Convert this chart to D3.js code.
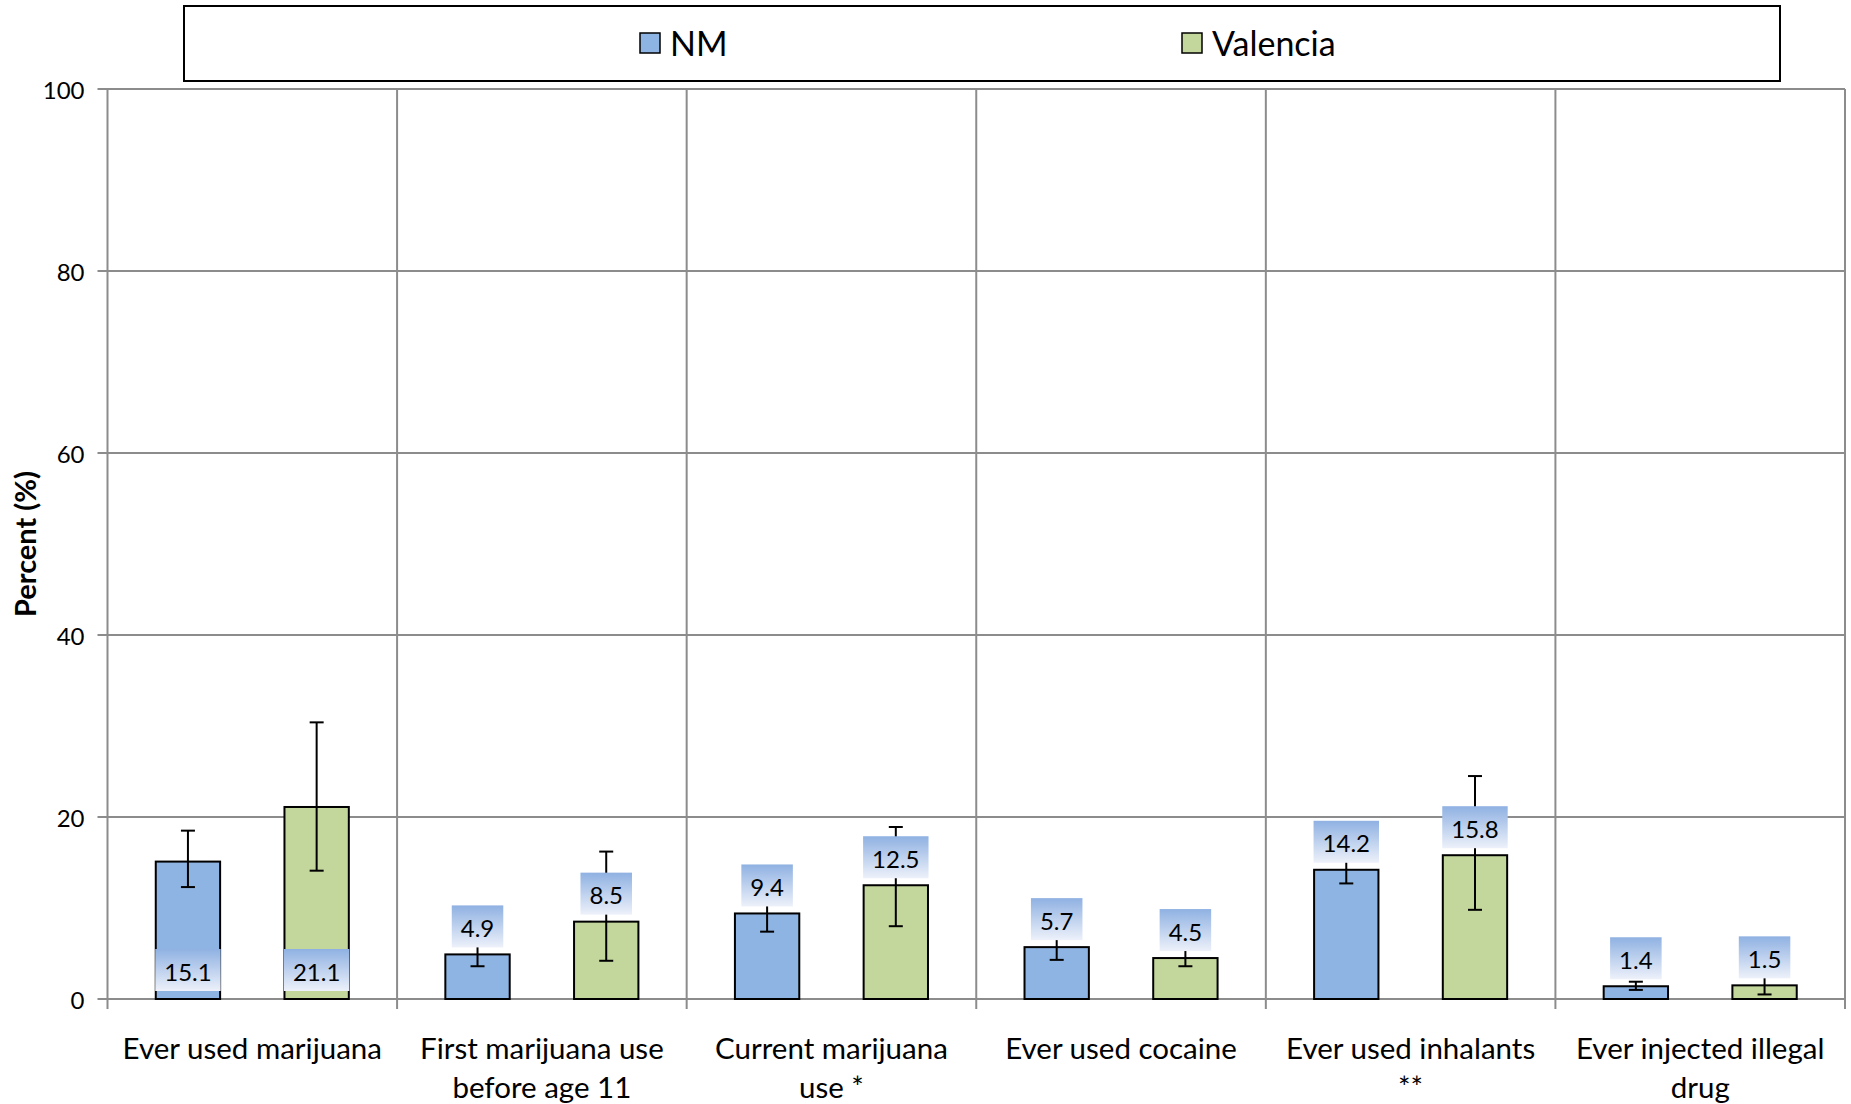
<!DOCTYPE html>
<html>
<head>
<meta charset="utf-8">
<script src="https://d3js.org/d3.v7.min.js"></script>
<style>
  body { margin: 0; background: #fff; font-family: Lato, 'Open Sans', sans-serif; }
  svg text { fill: #000; }
</style>
</head>
<body>
<svg id="chart" width="1851" height="1104"></svg>
<script>
// categories (x axis), one entry per group; labels split on two lines as in the chart
const categories = ["Ever used marijuana", "First marijuana use before age 11", "Current marijuana use *",
                    "Ever used cocaine", "Ever used inhalants **", "Ever injected illegal drug"];
const categoryLines = [["Ever used marijuana"], ["First marijuana use", "before age 11"], ["Current marijuana", "use *"],
                       ["Ever used cocaine"], ["Ever used inhalants", "**"], ["Ever injected illegal", "drug"]];
const seriesNames = ["NM", "Valencia"];

// percent values
const nmValues       = [15.1, 4.9, 9.4, 5.7, 14.2, 1.4];
const valenciaValues = [21.1, 8.5, 12.5, 4.5, 15.8, 1.5];

// confidence intervals (lower / upper)
const nmLow        = [12.3, 3.6, 7.4, 4.3, 12.7, 1.0];
const nmHigh       = [18.5, 6.2, 11.4, 7.1, 15.7, 1.9];
const valenciaLow  = [14.1, 4.2, 8.0, 3.6, 9.8, 0.5];
const valenciaHigh = [30.4, 16.2, 18.9, 5.5, 24.5, 2.5];

// Excel put the first group's labels at the bar base
const labelAtBase = ["Ever used marijuana"];

const yTicks = [0, 20, 40, 60, 80, 100];

const colors = { "NM": "#8EB4E3", "Valencia": "#C3D69B" };

// build rows
const rows = [];
categories.forEach((c, i) => {
  rows.push({ cat: c, series: "NM", value: nmValues[i], lo: nmLow[i], hi: nmHigh[i] });
  rows.push({ cat: c, series: "Valencia", value: valenciaValues[i], lo: valenciaLow[i], hi: valenciaHigh[i] });
});

const svg = d3.select("#chart");
const margin = { left: 107.5, right: 6, top: 89, bottom: 105 };
const W = +svg.attr("width"), H = +svg.attr("height");

const x0 = d3.scaleBand().domain(categories).range([margin.left, W - margin.right]).padding(0);
const x1 = d3.scaleBand().domain(seriesNames).range([0, x0.bandwidth()]).paddingInner(0.5).paddingOuter(0.375);
const y = d3.scaleLinear().domain([0, 100]).range([H - margin.bottom, margin.top]);

const gridColor = "#8c8c8c";

// horizontal gridlines (with small outward tick on the left)
svg.append("g").selectAll("line").data(yTicks).join("line")
  .attr("x1", margin.left - 10).attr("x2", W - margin.right)
  .attr("y1", d => y(d)).attr("y2", d => y(d))
  .attr("stroke", gridColor).attr("stroke-width", 2);

// vertical category separators (extending below the zero line as ticks)
const seps = categories.map(c => x0(c)).concat([x0.range()[1]]);
svg.append("g").selectAll("line").data(seps).join("line")
  .attr("x1", d => d).attr("x2", d => d)
  .attr("y1", y(100)).attr("y2", y(0) + 10)
  .attr("stroke", gridColor).attr("stroke-width", 2);

// y tick labels
svg.append("g").selectAll("text").data(yTicks).join("text")
  .attr("x", margin.left - 23).attr("y", d => y(d))
  .attr("text-anchor", "end").attr("dominant-baseline", "central")
  .style("font-size", "24px")
  .text(d => d);

// y axis title
svg.append("text")
  .attr("transform", `translate(36,544) rotate(-90)`)
  .attr("text-anchor", "middle")
  .style("font-size", "29px").style("font-weight", "bold")
  .text("Percent (%)");

// bars
svg.append("g").selectAll("rect").data(rows).join("rect")
  .attr("x", d => x0(d.cat) + x1(d.series))
  .attr("width", x1.bandwidth())
  .attr("y", d => y(d.value))
  .attr("height", d => y(0) - y(d.value))
  .attr("fill", d => colors[d.series])
  .attr("stroke", "#000").attr("stroke-width", 2);

// error bars
const eb = svg.append("g").attr("stroke", "#000").attr("stroke-width", 2);
rows.forEach(d => {
  const cx = x0(d.cat) + x1(d.series) + x1.bandwidth() / 2;
  eb.append("line").attr("x1", cx).attr("x2", cx).attr("y1", y(d.lo)).attr("y2", y(d.hi));
  eb.append("line").attr("x1", cx - 7).attr("x2", cx + 7).attr("y1", y(d.lo)).attr("y2", y(d.lo));
  eb.append("line").attr("x1", cx - 7).attr("x2", cx + 7).attr("y1", y(d.hi)).attr("y2", y(d.hi));
});

// gradient for data label boxes
const grad = svg.append("defs").append("linearGradient")
  .attr("id", "lblGrad").attr("x1", 0).attr("y1", 0).attr("x2", 0).attr("y2", 1);
grad.append("stop").attr("offset", "0%").attr("stop-color", "#8FB1E2");
grad.append("stop").attr("offset", "100%").attr("stop-color", "#EDF1FA");

// data labels
const boxH = 42;
const lg = svg.append("g");
rows.forEach(d => {
  const cx = x0(d.cat) + x1(d.series) + x1.bandwidth() / 2;
  const bottom = labelAtBase.includes(d.cat) ? y(0) - 8 : y(d.value) - 7;
  const g = lg.append("g");
  const t = g.append("text")
    .attr("x", cx).attr("y", bottom - boxH / 2 + 1)
    .attr("text-anchor", "middle").attr("dominant-baseline", "central")
    .style("font-size", "24px")
    .text(d3.format(".1f")(d.value));
  const tw = t.node().getComputedTextLength();
  g.insert("rect", "text")
    .attr("x", cx - tw / 2 - 9).attr("width", tw + 18)
    .attr("y", bottom - boxH).attr("height", boxH)
    .attr("fill", "url(#lblGrad)");
});

// category labels
svg.append("g").selectAll("text").data(categories).join("text")
  .attr("x", d => x0(d) + x0.bandwidth() / 2)
  .attr("y", 1059)
  .attr("text-anchor", "middle")
  .style("font-size", "29.5px")
  .each(function(d, i) {
    d3.select(this).selectAll("tspan").data(categoryLines[i]).join("tspan")
      .attr("x", x0(d) + x0.bandwidth() / 2)
      .attr("dy", (l, j) => j === 0 ? 0 : 39)
      .text(l => l);
  });

// legend
svg.append("rect").attr("x", 184).attr("y", 6).attr("width", 1596).attr("height", 75)
  .attr("fill", "#fff").attr("stroke", "#000").attr("stroke-width", 2);
const legendX = { "NM": 640, "Valencia": 1182 };
seriesNames.forEach(s => {
  svg.append("rect").attr("x", legendX[s]).attr("y", 33).attr("width", 20).attr("height", 20)
    .attr("fill", colors[s]).attr("stroke", "#000").attr("stroke-width", 1.5);
  svg.append("text").attr("x", legendX[s] + 30).attr("y", 42)
    .attr("dominant-baseline", "central").style("font-size", "34px").text(s);
});
</script>
</body>
</html>
